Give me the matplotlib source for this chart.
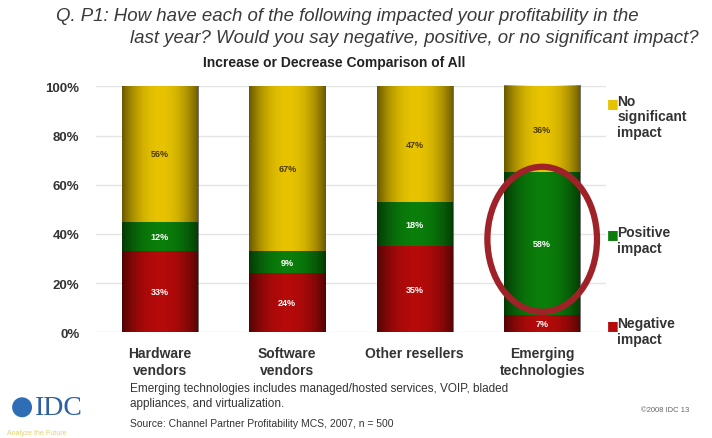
import numpy as np
import matplotlib.pyplot as plt
from matplotlib.patches import Ellipse

categories = ['Hardware\nvendors', 'Software\nvendors', 'Other resellers', 'Emerging\ntechnologies']
negative = [33, 24, 35, 7]
positive = [12, 9, 18, 58]
no_impact = [56, 67, 47, 36]
yticks = [0, 20, 40, 60, 80, 100]

col_neg = '#b40a0a'
col_pos = '#0a7d0a'
col_no = '#e6c200'
txt = '#333333'

plt.rcParams['font.family'] = ['Liberation Sans', 'DejaVu Sans']

fig = plt.figure(figsize=(7.12, 4.39), dpi=100)
ax = fig.add_axes([0.135, 0.241, 0.716, 0.560])

x = np.arange(len(categories))
w = 0.6
b1 = ax.bar(x, negative, w, color=col_neg, zorder=2)
b2 = ax.bar(x, positive, w, bottom=negative, color=col_pos, zorder=2)
bottom3 = np.array(negative) + np.array(positive)
b3 = ax.bar(x, no_impact, w, bottom=bottom3, color=col_no, zorder=2)

# cylinder shading: dark at the edges, lighter in the middle
g = np.linspace(-1, 1, 200)
shade = np.zeros((1, 200, 4))
shade[0, :, 3] = 0.55 * np.abs(g) ** 2.2
for bars in (b1, b2, b3):
    for p in bars:
        x0, y0 = p.get_x(), p.get_y()
        top = min(y0 + p.get_height(), 100)
        im = ax.imshow(shade, extent=[x0, x0 + p.get_width(), y0, top],
                       aspect='auto', zorder=3, interpolation='bilinear')
        im.set_clip_path(p)

for i in range(len(categories)):
    ax.text(x[i], negative[i] / 2, f'{negative[i]}%', ha='center', va='center',
            color='white', fontsize=6.5, fontweight='bold', zorder=4)
    ax.text(x[i], negative[i] + positive[i] / 2, f'{positive[i]}%', ha='center', va='center',
            color='white', fontsize=6.5, fontweight='bold', zorder=4)
    ytop = min(bottom3[i] + no_impact[i], 100)
    ax.text(x[i], (bottom3[i] + ytop) / 2, f'{no_impact[i]}%', ha='center', va='center',
            color='#4a3a00', fontsize=6.5, fontweight='bold', zorder=4)

ax.add_patch(Ellipse((3, 37.8), 0.86, 59, fill=False, edgecolor='#9e2228', lw=4.5, zorder=5))

ax.set_xlim(-0.5, 3.5)
ax.set_ylim(0, 100)
ax.set_yticks(yticks)
ax.set_yticklabels([f'{v}%' for v in yticks], fontsize=9.5, fontweight='bold', color=txt)
ax.set_xticks(x)
ax.set_xticklabels(categories, fontsize=10, fontweight='bold', color=txt, va='top', linespacing=1.25)
ax.tick_params(length=0, pad=12)
ax.tick_params(axis='x', pad=10)
ax.grid(axis='y', color='#e4e4e4', lw=1, zorder=0)
for s in ax.spines.values():
    s.set_visible(False)

fig.text(0.078, 0.962, 'Q. P1: How have each of the following impacted your profitability in the',
         fontsize=13.4, style='italic', color='#3a3a3a', va='center')
fig.text(0.182, 0.913, 'last year? Would you say negative, positive, or no significant impact?',
         fontsize=13.4, style='italic', color='#3a3a3a', va='center')
fig.text(0.47, 0.856, 'Increase or Decrease Comparison of All', fontsize=10, fontweight='bold',
         color='#222222', ha='center', va='center')

# legend
leg = [(col_no, 'No\nsignificant\nimpact', 0.784), (col_pos, 'Positive\nimpact', 0.485),
       (col_neg, 'Negative\nimpact', 0.278)]
for c, t, yy in leg:
    fig.text(0.852, yy - 0.004, '■', color=c, fontsize=9, va='top', family='DejaVu Sans')
    fig.text(0.867, yy, t, color=txt, fontsize=10, fontweight='bold', va='top', linespacing=1.15)

fig.text(0.183, 0.097, 'Emerging technologies includes managed/hosted services, VOIP, bladed\nappliances, and virtualization.',
         fontsize=8.5, color=txt, va='center', linespacing=1.3)
fig.text(0.183, 0.034, 'Source: Channel Partner Profitability MCS, 2007, n = 500',
         fontsize=7.5, color=txt, va='center')
fig.text(0.9, 0.066, '©2008 IDC 13', fontsize=5.5, color='#666666', va='center')

# IDC logo
fig.patches.append(Ellipse((0.031, 0.07), 0.028, 0.0455, transform=fig.transFigure,
                           facecolor='#2f6db5', edgecolor='none', figure=fig))
fig.text(0.049, 0.07, 'IDC', fontsize=20, color='#2d5fa6', family='Liberation Serif', va='center')
fig.text(0.01, 0.012, 'Analyze the Future', fontsize=5, color='#e8d070', va='center')

fig.savefig('out.png')
